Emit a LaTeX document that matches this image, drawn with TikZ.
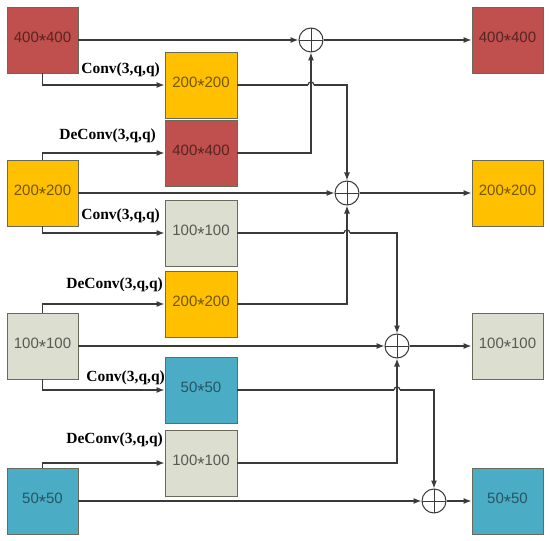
\documentclass[tikz,border=0pt]{standalone}
\usepackage{fontspec}
\usepackage{graphicx}
\setmainfont{Liberation Serif}
\newfontfamily\boxfont{Liberation Sans}
\usetikzlibrary{arrows.meta}
\definecolor{cred}{HTML}{C0504D}
\definecolor{cyel}{HTML}{FFC000}
\definecolor{cgry}{HTML}{DCDFCF}
\definecolor{cblu}{HTML}{4BACC6}
\definecolor{cline}{HTML}{3A3A3A}
\definecolor{cedge}{HTML}{6A6A5A}
\newcommand\tms{\raisebox{-0.3em}{\scalebox{1.25}{*}}}
\begin{document}
\begin{tikzpicture}[x=1bp,y=-1bp,
 blk/.style={draw=cedge,line width=0.9bp,minimum width=71bp,minimum height=66bp,inner sep=0pt,font=\boxfont\fontsize{15bp}{15bp}\selectfont},
 redb/.style={blk,fill=cred,text=cred!45!black},
 yelb/.style={blk,fill=cyel,text=cyel!45!black},
 gryb/.style={blk,fill=cgry,text=cgry!40!black},
 blub/.style={blk,fill=cblu,text=cblu!50!black},
 sumc/.style={circle,draw=cline,line width=1bp,minimum size=24bp,inner sep=0pt,
   path picture={\draw[cline,line width=0.9bp] (path picture bounding box.north) -- (path picture bounding box.south) (path picture bounding box.west) -- (path picture bounding box.east);}},
 ln/.style={draw=cline,line width=1.2bp},
 arr/.style={ln,-{Latex[length=8bp,width=6bp]}},
 lbl/.style={font=\bfseries\fontsize{15.5bp}{15.5bp}\selectfont,inner sep=0pt,anchor=base east}
]
\useasboundingbox (0,0) rectangle (550,541);

% left column
\node[redb] (L1) at (42.5,40) {400\tms400};
\node[yelb] (L2) at (42.5,193) {200\tms200};
\node[gryb] (L3) at (42.5,346) {100\tms100};
\node[blub] (L4) at (42.5,501) {50\tms50};
% middle column
\node[yelb,minimum width=72bp] (M1) at (201,85) {200\tms200};
\node[redb,minimum width=72bp] (M2) at (201,153) {400\tms400};
\node[gryb,minimum width=72bp] (M3) at (201,233) {100\tms100};
\node[yelb,minimum width=72bp] (M4) at (201,304) {200\tms200};
\node[blub,minimum width=72bp] (M5) at (201,390) {50\tms50};
\node[gryb,minimum width=72bp] (M6) at (201,463) {100\tms100};
% right column
\node[redb] (R1) at (507.5,40) {400\tms400};
\node[yelb] (R2) at (507.5,193) {200\tms200};
\node[gryb] (R3) at (507.5,346) {100\tms100};
\node[blub] (R4) at (507.5,501) {50\tms50};
% sums
\node[sumc] (C1) at (311,40) {};
\node[sumc] (C2) at (347,193) {};
\node[sumc] (C3) at (397,346) {};
\node[sumc] (C4) at (434,501) {};

% labels
\node[lbl] (t1) at (160,74) {Conv(3,q,q)};
\node[lbl] (t2) at (156,140) {DeConv(3,q,q)};
\node[lbl] (t3) at (160,220) {Conv(3,q,q)};
\node[lbl] (t4) at (163,288) {DeConv(3,q,q)};
\node[lbl] (t5) at (165,381) {Conv(3,q,q)};
\node[lbl] (t6) at (163,443) {DeConv(3,q,q)};

% straight rows
\draw[arr] (L1.east) -- (C1.west);
\draw[arr] (C1.east) -- (R1.west);
\draw[arr] (L2.east) -- (C2.west);
\draw[arr] (C2.east) -- (R2.west);
\draw[arr] (L3.east) -- (C3.west);
\draw[arr] (C3.east) -- (R3.west);
\draw[arr] (L4.east) -- (C4.west);
\draw[arr] (C4.east) -- (R4.west);

% conv / deconv branches
\draw[arr] (L1.south) |- (M1.west);
\draw[arr] (L2.north) |- (M2.west);
\draw[arr] (L2.south) |- (M3.west);
\draw[arr] (L3.north) |- (M4.west);
\draw[arr] (L3.south) |- (M5.west);
\draw[arr] (L4.north) |- (M6.west);

% up-going into sums
\draw[arr] (M2.east) -| (C1.south);
\draw[arr] (M4.east) -| (C2.south);
\draw[arr] (M6.east) -| (C3.south);

% down-going with hops
\coordinate (h1) at (C1.south |- M1.east);
\coordinate (h2) at (C2.south |- M3.east);
\coordinate (h3) at (C3.south |- M5.east);
\draw[ln] (M1.east) -- ([xshift=-3bp]h1);
\draw[ln] ([xshift=-3bp]h1) .. controls ([xshift=-3bp,yshift=4bp]h1) and ([xshift=3bp,yshift=4bp]h1) .. ([xshift=3bp]h1);
\draw[arr] ([xshift=3bp]h1) -- (C2.north |- M1.east) -- (C2.north);
\draw[ln] (M3.east) -- ([xshift=-3bp]h2);
\draw[ln] ([xshift=-3bp]h2) .. controls ([xshift=-3bp,yshift=4bp]h2) and ([xshift=3bp,yshift=4bp]h2) .. ([xshift=3bp]h2);
\draw[arr] ([xshift=3bp]h2) -- (C3.north |- M3.east) -- (C3.north);
\draw[ln] (M5.east) -- ([xshift=-3bp]h3);
\draw[ln] ([xshift=-3bp]h3) .. controls ([xshift=-3bp,yshift=4bp]h3) and ([xshift=3bp,yshift=4bp]h3) .. ([xshift=3bp]h3);
\draw[arr] ([xshift=3bp]h3) -- (C4.north |- M5.east) -- (C4.north);
\end{tikzpicture}
\end{document}
